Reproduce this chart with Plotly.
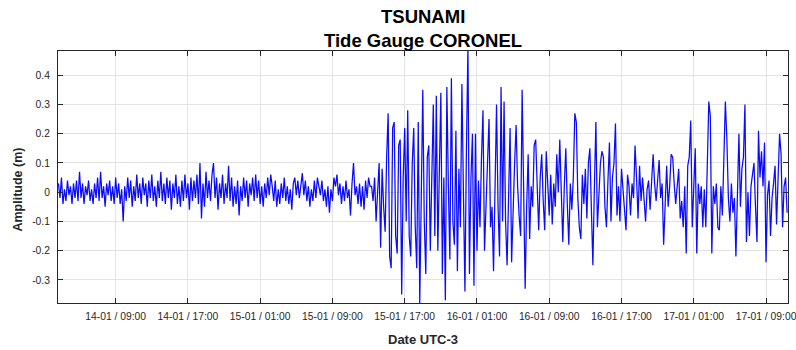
import pandas as pd
import plotly.graph_objects as go

# ---- data (sea-level amplitude in metres, 10-minute samples) ----
start_time = "2022-01-14 02:40"
sample_step = "10min"

quiet_m = [
    0.03, -0.02, 0.05, -0.04, 0.01, -0.03, 0.04, -0.01, 0.02, -0.04,
    0.03, -0.02, 0.04, -0.03, 0.07, -0.02, 0.03, -0.04, 0.02, -0.01,
    0.04, -0.03, 0.01, -0.04, 0.03, -0.02, 0.05, -0.03, 0.07, -0.02,
    0.02, -0.05, 0.03, -0.01, 0.04, -0.03, 0.02, -0.04, 0.05, -0.02,
    0.03, -0.04, 0.01, -0.10, 0.02, -0.03, 0.05, -0.02, 0.04, -0.05,
    0.02, -0.03, 0.06, -0.02, 0.03, -0.04, 0.05, -0.01, 0.03, -0.05,
    0.04, -0.02, 0.06, -0.03, 0.02, -0.05, 0.04, -0.02, 0.07, -0.03,
    0.03, -0.04, 0.05, -0.02, 0.04, -0.06, 0.03, -0.02, 0.06, -0.04,
    0.02, -0.05, 0.04, -0.03, 0.06, -0.02, 0.03, -0.06, 0.05, -0.03,
    0.04, -0.02, 0.06, -0.04, 0.10, -0.09, 0.03, -0.05, 0.07, -0.02,
    0.04, -0.03, 0.06, 0.10, -0.02, 0.05, -0.06, 0.03, -0.02, 0.06,
    -0.04, 0.03, -0.02, 0.09, -0.03, 0.05, -0.05, 0.02, -0.04, 0.04,
    -0.08, 0.02, -0.03, 0.05, -0.02, 0.04, -0.05, 0.03, -0.01, 0.05,
    -0.03, 0.06, -0.02, 0.04, -0.04, 0.02, -0.05, 0.03, -0.02, 0.05,
    -0.01, 0.06, 0.02, -0.03, 0.04, -0.05, 0.01, -0.04, 0.03, -0.02,
    0.05, -0.03, 0.02, -0.04, 0.01, -0.06, 0.03, 0.05, -0.01, 0.04,
    -0.02, 0.03, 0.065, -0.01, 0.04, -0.03, 0.02, -0.05, 0.01, -0.03,
    0.04, -0.02, 0.05, 0.02, -0.01, 0.04, -0.03, 0.01, -0.05, 0.02,
    -0.07, 0.01, -0.03, 0.05, 0.02, 0.06, -0.01, 0.03, -0.04, 0.02,
    -0.03, 0.04, -0.02, 0.01, -0.08, 0.03, 0.10, -0.01, 0.02, -0.04,
    0.03, -0.05, 0.02, -0.06, 0.04, -0.02, 0.05, 0.02,
]

arrival_m = [
    0.02, -0.03, 0.05, -0.10, 0.03, 0.10, -0.19, 0.08, -0.05, -0.135,
    0.12, 0.27, -0.22, -0.26, 0.22, 0.24, -0.15, -0.21, 0.16, 0.18,
    -0.35, 0.05, 0.22, -0.10, 0.28, -0.15, -0.22, 0.10, 0.22, -0.12,
    -0.26, 0.24, -0.38, 0.05, 0.35, -0.10, -0.28, 0.12, 0.16, -0.20,
    0.05, 0.30, -0.15, 0.33,
    -0.20, 0.10, 0.34, -0.28, 0.05, -0.37, 0.36, 0.02, -0.23, 0.39,
    -0.10, -0.18, 0.21, -0.27, 0.08, -0.12, 0.37, 0.00, -0.34, 0.15,
    0.50, -0.28, 0.05, 0.20, -0.32, 0.20, -0.20, 0.04, -0.12, 0.12,
    0.28, -0.20, -0.05, 0.10, 0.25, -0.12, -0.05, -0.27, 0.10, 0.30,
    -0.05, -0.22, 0.36, -0.10, 0.31,
]

decay_m = [
    -0.10, -0.25, 0.05, 0.22, -0.24, -0.05, 0.10, 0.23, 0.02, -0.08,
    -0.15, 0.35, 0.05, -0.33, -0.05, 0.13, -0.16, 0.02, -0.05, 0.16,
    0.18, -0.02, -0.13, 0.05, 0.13, -0.03, -0.13, 0.14, 0.02, -0.08,
    0.06, -0.11, 0.03, -0.05, 0.13, 0.00, 0.18, -0.05, -0.17, 0.02,
    0.15, -0.04, -0.18, 0.03, -0.06, 0.05, 0.27, 0.24, -0.02, -0.12,
    -0.16, 0.06, -0.04, 0.08, -0.09, 0.10, 0.15, -0.06, -0.25, 0.02,
    0.24, -0.12, -0.02, 0.10, 0.14, 0.12, -0.05, -0.12, 0.04, 0.17,
    -0.10, 0.05, 0.10, 0.235, -0.08, 0.02, -0.10, 0.08, 0.01, -0.05,
    -0.13, 0.06, 0.02, -0.08, 0.03, -0.02, 0.16, 0.05, -0.09, 0.09,
    -0.03, 0.05, -0.02, -0.10, 0.01, 0.04, -0.06, 0.02, 0.13, 0.03,
    -0.03, 0.04, 0.11, -0.02, 0.03, -0.18, -0.05, 0.09, -0.05, 0.02,
    0.13, 0.12, 0.03, -0.04, 0.02, 0.08, -0.09, -0.03, -0.12, 0.02,
    -0.21, 0.09, 0.12, 0.245, -0.12, 0.04, 0.15, -0.21, 0.03, -0.04,
    0.02, -0.12, 0.01, -0.12, 0.10, 0.31, 0.26, -0.21, 0.02, -0.04,
    0.03, -0.12, -0.13, 0.02, -0.08, 0.10, 0.31, 0.18, -0.02, -0.10,
    0.03, -0.07, -0.02, -0.22, 0.05, 0.20, -0.05, 0.08, 0.12, 0.30,
    -0.17, 0.00, -0.15, 0.02, 0.06, 0.10, -0.05, -0.17, 0.21, 0.05,
    0.14, 0.02, 0.17, -0.24, -0.01, 0.04, -0.15, -0.02, 0.03, 0.09,
    -0.11, 0.05, 0.20, 0.13, -0.12, 0.02, 0.05, -0.07,
]

x_tick_dates = [
    "2022-01-14 09:00", "2022-01-14 17:00", "2022-01-15 01:00",
    "2022-01-15 09:00", "2022-01-15 17:00", "2022-01-16 01:00",
    "2022-01-16 09:00", "2022-01-16 17:00", "2022-01-17 01:00",
    "2022-01-17 09:00",
]
x_tick_labels = [
    "14-01 / 09:00", "14-01 / 17:00", "15-01 / 01:00", "15-01 / 09:00",
    "15-01 / 17:00", "16-01 / 01:00", "16-01 / 09:00", "16-01 / 17:00",
    "17-01 / 01:00", "17-01 / 09:00",
]
y_tick_values = [-0.3, -0.2, -0.1, 0, 0.1, 0.2, 0.3, 0.4]
y_tick_labels = ["-0.3", "-0.2", "-0.1", "0", "0.1", "0.2", "0.3", "0.4"]

x_range = ["2022-01-14 02:37", "2022-01-17 11:26"]
y_range = [-0.379, 0.483]

title_lines = ["TSUNAMI", "Tide Gauge CORONEL"]
x_title = "Date UTC-3"
y_title = "Amplitude (m)"

# ---- figure ----
amplitude = quiet_m + arrival_m + decay_m
times = pd.date_range(start_time, periods=len(amplitude), freq=sample_step)

FONT = "Liberation Sans, Arial, sans-serif"
AX = "#262626"

fig = go.Figure(
    go.Scatter(x=times, y=amplitude, mode="lines",
               line=dict(color="#0a0aff", width=1.25), showlegend=False)
)

fig.update_layout(
    width=796, height=350,
    margin=dict(l=58, r=8, t=51, b=47, autoexpand=False),
    paper_bgcolor="white", plot_bgcolor="white",
    font=dict(family=FONT, color=AX, size=11),
    annotations=[
        dict(text="<b>%s</b>" % title_lines[0], xref="paper", yref="paper",
             x=0.5, y=1.135, xanchor="center", yanchor="middle", showarrow=False,
             font=dict(family=FONT, size=18.5, color="#000000")),
        dict(text="<b>%s</b>" % title_lines[1], xref="paper", yref="paper",
             x=0.5, y=1.041, xanchor="center", yanchor="middle", showarrow=False,
             font=dict(family=FONT, size=18.5, color="#000000")),
        dict(text="<b>%s</b>" % x_title, xref="paper", yref="paper",
             x=0.5, y=-0.145, xanchor="center", yanchor="middle", showarrow=False,
             font=dict(family=FONT, size=13, color=AX)),
        dict(text="<b>%s</b>" % y_title, xref="paper", yref="paper",
             x=-0.0548, y=0.45, xanchor="center", yanchor="middle", showarrow=False,
             textangle=-90, font=dict(family=FONT, size=12.5, color=AX)),
    ],
)

axis_common = dict(
    showline=True, linecolor=AX, linewidth=1, mirror="ticks",
    ticks="inside", ticklen=5, tickcolor=AX, tickwidth=1,
    showgrid=True, gridcolor="#e3e3e3", gridwidth=1, zeroline=False,
    tickfont=dict(family=FONT, size=10.3, color=AX), automargin=False,
    ticklabeloverflow="allow",
)

fig.update_xaxes(
    type="date", range=x_range, tickmode="array",
    tickvals=x_tick_dates, ticktext=x_tick_labels, ticklabelstandoff=4,
    **axis_common,
)
fig.update_yaxes(
    range=y_range, tickmode="array",
    tickvals=y_tick_values, ticktext=y_tick_labels, ticklabelstandoff=5,
    **axis_common,
)

fig.write_html(
    "out.html",
    config={"displayModeBar": False},
    post_script="document.body.style.margin='0';document.body.style.padding='0';",
)
